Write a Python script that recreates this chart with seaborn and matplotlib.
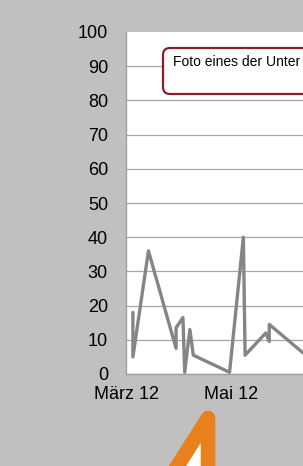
import matplotlib
matplotlib.use("Agg")
import matplotlib.pyplot as plt
import matplotlib.dates as mdates
from matplotlib.patches import FancyBboxPatch, Polygon
import seaborn as sns
import pandas as pd

# ---- data ----
dates = ["2012-03-05", "2012-03-05", "2012-03-14", "2012-03-30", "2012-03-30",
         "2012-04-03", "2012-04-04", "2012-04-07", "2012-04-09", "2012-04-30",
         "2012-05-08", "2012-05-09", "2012-05-21", "2012-05-23", "2012-05-23",
         "2012-06-12"]
values = [18, 5, 36, 7.5, 13.5, 16.5, 0.5, 13, 5.5, 0.5, 40, 5.5, 12, 9.5, 14.5, 6]
y_ticks = [0, 10, 20, 30, 40, 50, 60, 70, 80, 90, 100]
x_tick_dates = ["2012-03-01", "2012-05-01"]
x_tick_labels = ["März 12", "Mai 12"]
annotation_text = "Foto eines der Unter"

df = pd.DataFrame({"date": pd.to_datetime(dates), "value": values})

sns.set_style("white")
plt.rcParams["font.family"] = ["Liberation Sans", "DejaVu Sans"]

W, H = 303, 466
fig = plt.figure(figsize=(W / 100, H / 100), dpi=100)
fig.patch.set_facecolor("#c0c0c0")

ax_left, ax_right, ax_top, ax_bottom = 126, 340, 32, 374
ax = fig.add_axes([ax_left / W, (H - ax_bottom) / H,
                   (ax_right - ax_left) / W, (ax_bottom - ax_top) / H])
ax.set_facecolor("white")

sns.lineplot(data=df, x="date", y="value", sort=False, estimator=None,
             color="#858585", linewidth=2.4, ax=ax)

px_per_day = 1.726
x0 = mdates.date2num(pd.Timestamp("2012-03-01"))
ax.set_xlim(x0, x0 + (ax_right - ax_left) / px_per_day)
ax.set_ylim(0, 100)

ax.set_yticks(y_ticks)
ax.set_yticklabels([str(v) for v in y_ticks])
ax.set_xticks([mdates.date2num(pd.Timestamp(d)) for d in x_tick_dates])
ax.set_xticklabels(x_tick_labels)
ax.set_xlabel("")
ax.set_ylabel("")

ax.tick_params(axis="y", length=0, pad=13, labelsize=13, labelcolor="black")
ax.tick_params(axis="x", length=0, pad=8.5, labelsize=13, labelcolor="black")

ax.yaxis.grid(True, color="#a6a6a6", linewidth=0.9)
ax.xaxis.grid(False)
ax.set_axisbelow(True)
gl = ax.get_ygridlines()
gl[-1].set_visible(False)

for s in ["top", "right"]:
    ax.spines[s].set_visible(False)
for s in ["left", "bottom"]:
    ax.spines[s].set_color("#9a9a9a")
    ax.spines[s].set_linewidth(0.9)

# annotation box (in inches)
box = FancyBboxPatch((1.63, (H - 94) / 100), 1.77, 0.46,
                     boxstyle="round,pad=0,rounding_size=0.07",
                     transform=fig.dpi_scale_trans, facecolor="white",
                     edgecolor="#8b1c2c", linewidth=1.6, zorder=5)
fig.patches.append(box)
fig.text(1.73, (H - 66) / 100, annotation_text, transform=fig.dpi_scale_trans,
         fontsize=10, color="black", va="baseline", ha="left", zorder=6)

# orange arrow outline at bottom
arrow = Polygon([(2.08, (H - 418) / 100), (1.43, -0.54), (2.08, -0.54)],
                closed=True, transform=fig.dpi_scale_trans,
                facecolor="white", edgecolor="#e8801c", linewidth=10.5,
                joinstyle="round", zorder=5)
fig.patches.append(arrow)

fig.savefig("out.png", dpi=100)
